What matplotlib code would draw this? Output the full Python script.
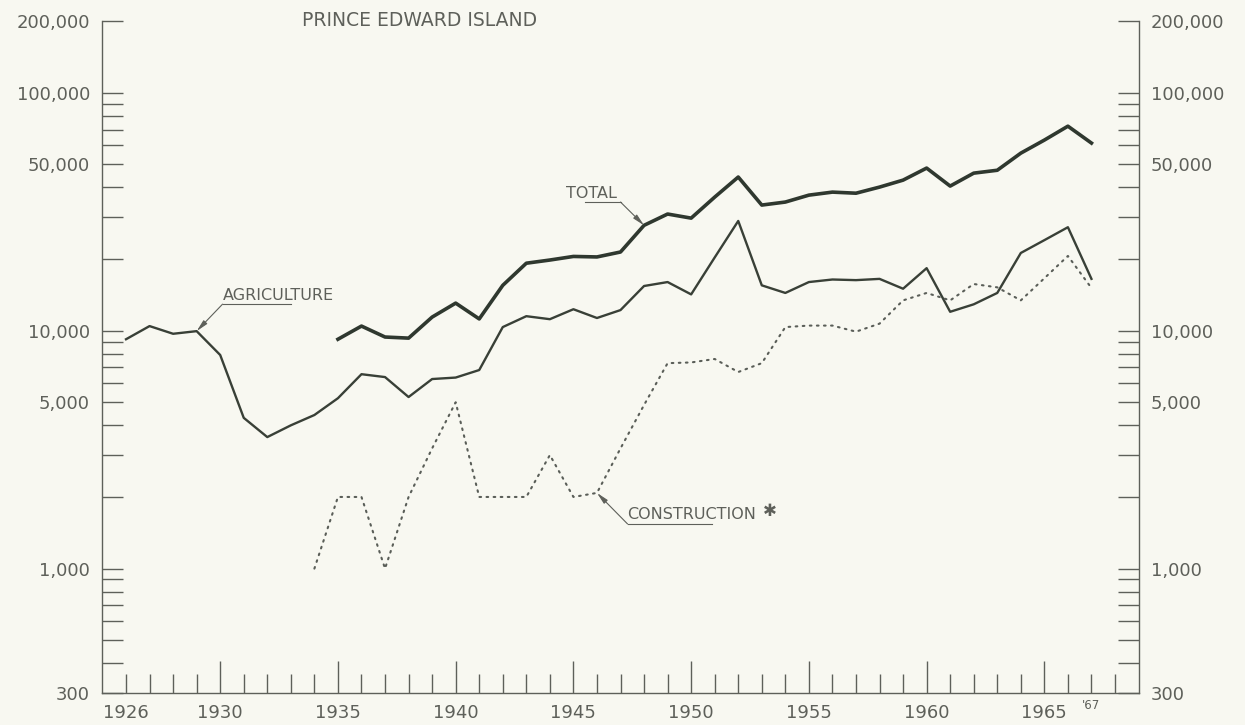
import numpy as np
import matplotlib.pyplot as plt
from matplotlib.ticker import FixedLocator, NullLocator

# values (persons, log scale)
agri_years = list(range(1926, 1968))
agriculture = [9200, 10450, 9700, 9950, 7900, 4300, 3570, 4000, 4420, 5200,
               6560, 6380, 5260, 6260, 6350, 6830, 10350, 11500, 11170, 12300,
               11300, 12200, 15400, 16000, 14200, 20300, 28900, 15500, 14400, 16000,
               16400, 16300, 16500, 15000, 18300, 12000, 12900, 14400, 21200, 24000,
               27200, 16500]

total_years = list(range(1935, 1968))
total = [9200, 10450, 9400, 9300, 11400, 13050, 11200, 15500, 19200, 19800,
         20500, 20400, 21400, 27700, 30900, 29700, 36400, 44200, 33700, 34700,
         37100, 38200, 37800, 40100, 42900, 48200, 40500, 45900, 47200, 55700,
         63200, 72300, 61400]

constr_years = list(range(1934, 1968))
construction = [1000, 2000, 2000, 1000, 2000, 3200, 5000, 2000, 2000, 2000,
                3000, 2000, 2080, 3200, 4870, 7300, 7350, 7600, 6700, 7300,
                10350, 10500, 10500, 9900, 10700, 13400, 14400, 13400, 15700, 15200,
                13400, 16600, 20600, 15100]

y_ticks = [300, 400, 500, 600, 700, 800, 900, 1000, 2000, 3000, 4000, 5000,
           6000, 7000, 8000, 9000, 10000, 20000, 30000, 40000, 50000, 60000,
           70000, 80000, 90000, 100000, 200000]
y_labelled = {300: "300", 1000: "1,000", 5000: "5,000", 10000: "10,000",
              50000: "50,000", 100000: "100,000", 200000: "200,000"}
x_minor = list(range(1926, 1969))
x_major = [1930, 1935, 1940, 1945, 1950, 1955, 1960, 1965]
x_labels = ["1926", "1930", "1935", "1940", "1945", "1950", "1955", "1960", "1965"]

BG = "#f8f8f1"
INK = "#394037"
GREY = "#5e605a"

plt.rcParams["font.family"] = ["DejaVu Sans"]

fig = plt.figure(figsize=(12.45, 7.25), dpi=100, facecolor=BG)
ax = fig.add_axes([0.0823, 0.0441, 0.9145 - 0.0823, 0.971 - 0.0441])
ax.set_facecolor(BG)

ax.plot(total_years, total, color="#2f382f", lw=2.6, solid_joinstyle="round")
ax.plot(agri_years, agriculture, color=INK, lw=1.7, solid_joinstyle="round")
ax.plot(constr_years, construction, color="#5a5e58", lw=1.5,
        linestyle=(0, (0.8, 2.6)), dash_capstyle="round")

ax.set_yscale("log")
ax.set_ylim(300, 200000)
ax.set_xlim(1925, 1969)

# spines
for side in ["left", "right", "bottom"]:
    ax.spines[side].set_color(GREY)
    ax.spines[side].set_linewidth(1.0)
ax.spines["top"].set_visible(False)

# y axis ticks, both sides, pointing in
ax.yaxis.set_major_locator(FixedLocator(y_ticks))
ax.yaxis.set_minor_locator(NullLocator())
ax.set_yticklabels([y_labelled.get(v, "") for v in y_ticks])
ax.tick_params(axis="y", which="major", direction="in", length=15, width=1.0,
               color=GREY, left=True, right=True, labelleft=True, labelright=True,
               labelsize=13, labelcolor=GREY, pad=9)

# x axis: yearly ticks, taller every five years
ax.xaxis.set_minor_locator(FixedLocator([y for y in x_minor if y not in x_major]))
ax.set_xticks([1926] + x_major)
ax.set_xticklabels(x_labels)
ax.tick_params(axis="x", which="major", direction="in", length=23, width=1.0,
               color=GREY, labelsize=13, labelcolor=GREY, pad=8)
ax.tick_params(axis="x", which="minor", direction="in", length=14, width=1.0,
               color=GREY)
# the 1926 tick is a short one
ax.xaxis.get_major_ticks()[0].tick1line.set_markersize(14)

ax.text(1967, -0.018, "'67", transform=ax.get_xaxis_transform(),
        ha="center", va="center", fontsize=8.5, color=GREY)

# title
fig.text(0.337, 0.972, "PRINCE EDWARD ISLAND", ha="center", va="center",
         fontsize=13.5, color=GREY)

# labels with underline and leader arrow
def label(text, x_text, y_text, under, y_under, leader_from, target):
    ax.text(x_text, y_text, text, ha="left", va="center", fontsize=11.5,
            color=GREY)
    ax.plot(under, [y_under, y_under], color=GREY, lw=0.8)
    ax.annotate("", xy=target, xytext=(leader_from, y_under),
                arrowprops=dict(arrowstyle="-|>,head_length=0.7,head_width=0.15",
                                color=GREY, lw=0.8, shrinkA=0, shrinkB=0))

label("AGRICULTURE", 1930.1, 14100, [1930.1, 1933.0], 12920, 1930.1,
      (1929, agriculture[agri_years.index(1929)]))
label("TOTAL", 1944.7, 37800, [1945.5, 1947.0], 34700, 1947.0,
      (1948, total[total_years.index(1948)]))
label("CONSTRUCTION", 1947.3, 1695, [1947.3, 1950.9], 1540, 1947.3,
      (1946, construction[constr_years.index(1946)]))
ax.text(1953.05, 1740, "\u2731", ha="left", va="center", fontsize=12,
        color=GREY)

fig.savefig("out.png", dpi=100, facecolor=BG)
